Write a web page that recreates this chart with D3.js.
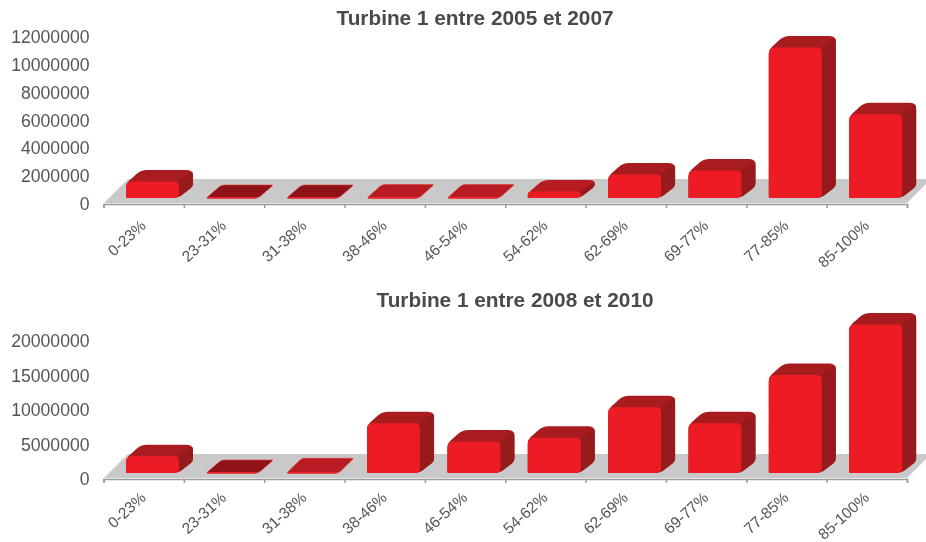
<!DOCTYPE html>
<html><head><meta charset="utf-8">
<script src="https://cdnjs.cloudflare.com/ajax/libs/d3/7.8.5/d3.min.js"></script>
<style>html,body{margin:0;background:#fff}svg{display:block;filter:blur(0.35px)}
text{font-family:"Liberation Sans",Arial,sans-serif}</style></head><body>
<svg id="c" width="926" height="542"></svg>
<script>
const categories=["0-23%","23-31%","31-38%","38-46%","46-54%","54-62%","62-69%","69-77%","77-85%","85-100%"];
const values1=[1190000,0,0,30000,30000,470000,1690000,1980000,10810000,6010000];
const values2=[2420000,0,250000,7220000,4570000,5120000,9520000,7220000,14220000,21520000];
const ticks1=[0,2000000,4000000,6000000,8000000,10000000,12000000];
const ticks2=[0,5000000,10000000,15000000,20000000];
const title1="Turbine 1 entre 2005 et 2007", title2="Turbine 1 entre 2008 et 2010";
const svg=d3.select("#c");
function roundPoly(pts){
  const p=d3.path(),n=pts.length;
  for(let i=0;i<n;i++){
    const a=pts[(i+n-1)%n],b=pts[i],c=pts[(i+1)%n],r=b[2]||0;
    const la=Math.hypot(a[0]-b[0],a[1]-b[1])||1,lc=Math.hypot(c[0]-b[0],c[1]-b[1])||1;
    const ra=Math.min(r,la/2),rc=Math.min(r,lc/2);
    const sx=b[0]+(a[0]-b[0])*ra/la,sy=b[1]+(a[1]-b[1])*ra/la;
    const ex=b[0]+(c[0]-b[0])*rc/lc,ey=b[1]+(c[1]-b[1])*rc/lc;
    if(i===0)p.moveTo(sx,sy);else p.lineTo(sx,sy);
    p.quadraticCurveTo(b[0],b[1],ex,ey);
  }
  p.closePath();return p.toString();
}
function chart(title,titleX,titleY,cats,vals,ticks,top,axisY,maxV,floorTop,labelDy){
  const g=svg.append("g");
  const x=d3.scaleBand().domain(cats).range([103.5,907]);
  const y=d3.scaleLinear().domain([0,maxV]).range([axisY-1,top]);
  const base=axisY-6,dx=15,dy=13,dyTall=11.5,inset=22.5,w=52;
  g.append("text").attr("x",titleX).attr("y",titleY).attr("text-anchor","middle")
    .attr("font-size",20.8).attr("font-weight","bold").attr("fill","#4a4a4a").text(title);
  const fd=axisY-1-floorTop;
  g.append("path").attr("fill","#c9c9c9")
    .attr("d",`M104,${axisY-1}L${104+fd},${floorTop}L926,${floorTop}L926,${axisY-1-19}L907,${axisY-1}Z`);
  const ax=g.append("g").attr("transform",`translate(0,${axisY})`)
    .call(d3.axisBottom(d3.scaleLinear().domain([0,cats.length]).range([103.5,907])).ticks(cats.length).tickSize(4).tickSizeOuter(4).tickFormat(""));
  ax.selectAll("line,path").attr("stroke","#999").attr("stroke-width",1.5).attr("fill","none");
  const ya=g.append("g").attr("transform","translate(89.5,1)")
    .call(d3.axisLeft(y).tickValues(ticks).tickSize(0).tickPadding(0).tickFormat(d3.format("d")));
  ya.select(".domain").remove();
  ya.selectAll("text").attr("font-size",17.6).attr("fill","#555").style("font-family",'"Liberation Sans",Arial,sans-serif');
  const bars=g.selectAll(".b").data(vals).join("g");
  bars.each(function(v,i){
    const s=d3.select(this),x0=x(cats[i])+inset,x1=x0+w,h=y(0)-y(v),t=base-h;
    if(h<2){
      const col=v>0?"#b81b21":"#8e1216";
      s.append("path").attr("d",roundPoly([[x0,base,1.5],[x0+dx,t-dy,3],[x1+dx,t-dy,1.5],[x1,base,3]]))
        .attr("fill",col).attr("stroke","#e8343a").attr("stroke-width",0.6);
      s.append("path").attr("d",`M${x0+1},${base}L${x1-2},${base}`).attr("stroke","#ee2a30").attr("stroke-width",1.4);
      return;
    }
    const d=dyTall,topCol=h<10?"#b81b21":"#a81c20";
    s.append("path").attr("d",roundPoly([[x0,t+2,4],[x0+dx,t-d,6],[x1+dx,t-d,6],[x1+dx,base-d,3],[x1,base,4],[x0,base,1]]))
      .attr("fill",topCol);
    s.append("path").attr("d",roundPoly([[x1,t,3],[x1+dx-1,t-d+2,5],[x1+dx,t-d+3,5],[x1+dx,base-d,3],[x1,base,4]]))
      .attr("fill","#971a1d");
    s.append("path").attr("d",roundPoly([[x0,base,1],[x0,t,Math.min(6,h/2)],[x1+1,t,Math.min(5,h/2)],[x1+1,base,5]]))
      .attr("fill","#ed1c24");
  });
  g.selectAll(".l").data(cats).join("text")
    .attr("transform",d=>`translate(${x(d)+43.5},${axisY+labelDy}) rotate(-42)`)
    .attr("text-anchor","end").attr("font-size",15.5).attr("fill","#555").text(d=>d);
}
chart(title1,475,25,categories,values1,ticks1,36,204,12000000,179,23);
chart(title2,515,307,categories,values2,ticks2,340,479,20000000,454,20);
</script></body></html>
